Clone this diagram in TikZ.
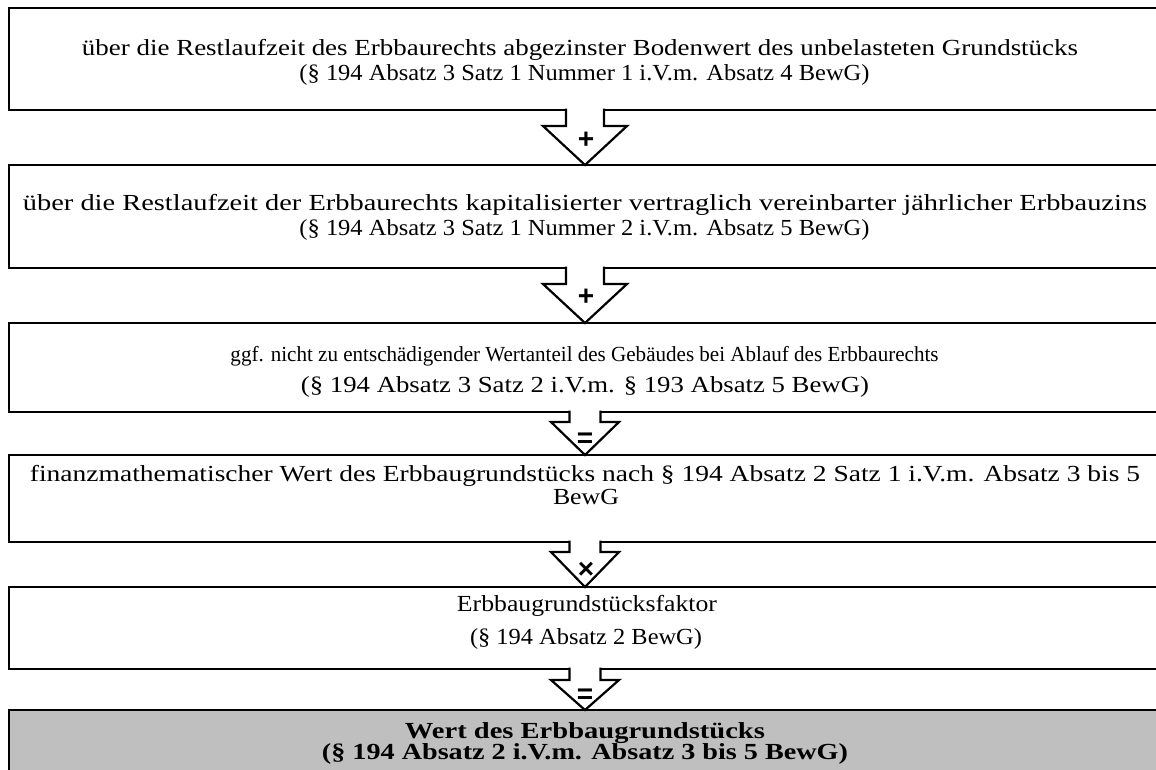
\documentclass[tikz,border=0pt]{standalone}
\usepackage{graphicx}
\usepackage{fontspec}
\setmainfont{Liberation Serif}
\newfontfamily\symfont{Liberation Sans}
\usetikzlibrary{calc}
\definecolor{boxgray}{RGB}{191,191,191}
\tikzset{
  box/.style={draw, line width=2.6pt, minimum width=1152pt, inner sep=0pt, outer sep=0pt},
  chev/.style={draw, line width=2.2pt, fill=white, line join=miter},
  txt/.style={font=\fontsize{23}{26}\selectfont, anchor=base, inner sep=0pt},
  stxt/.style={font=\fontsize{21.5}{26}\selectfont, anchor=base, inner sep=0pt},
  btxt/.style={font=\bfseries\fontsize{23}{26}\selectfont, anchor=base, inner sep=0pt},
  sym/.style={font=\symfont\bfseries\fontsize{28}{28}\selectfont, inner sep=0pt}
}
% a line of text stretched to a given width, natural height
\newcommand\fitline[2]{\resizebox{#1pt}{\height}{#2}}
% #1 upper box, #2 lower box, #3 shaft half width, #4 shaft depth, #5 wing half width
\newcommand\chevshape[5]{%
  \fill[white] ($(#1.south)+(-#3,-2)$) rectangle ($(#1.south)+(#3,2)$);
  \draw[chev] ($(#1.south)+(-#3,-1.3)$) -- ($(#1.south)+(-#3,#4)$) -- ($(#1.south)+(-#5,#4)$)
     -- (#2.north) -- ($(#1.south)+(#5,#4)$) -- ($(#1.south)+(#3,#4)$) -- ($(#1.south)+(#3,-1.3)$);
}
\begin{document}
\begin{tikzpicture}[x=1pt,y=-1pt]
\useasboundingbox (0,0) rectangle (1156,769);
\clip (0,0) rectangle (1156,769);
% boxes
\node[box, minimum height=102pt] (b1) at (585,59) {};
\node[box, minimum height=103pt] (b2) at (585,216.5) {};
\node[box, minimum height=89pt] (b3) at (585,367.5) {};
\node[box, minimum height=87pt] (b4) at (585,498.5) {};
\node[box, minimum height=82pt] (b5) at (585,628) {};
\node[box, minimum height=90pt, fill=boxgray] (b6) at (585,755) {};
% texts
\node[txt] (t1a) at (580,55) {\fitline{996}{über die Restlaufzeit des Erbbaurechts abgezinster Bodenwert des unbelasteten Grundstücks}};
\node[txt] (t1b) at (584.5,80) {\fitline{570}{(§ 194 Absatz 3 Satz 1 Nummer 1 i.V.m. Absatz 4 BewG)}};
\node[txt] (t2a) at (585,210) {\fitline{1124}{über die Restlaufzeit der Erbbaurechts kapitalisierter vertraglich vereinbarter jährlicher Erbbauzins}};
\node[txt] (t2b) at (584.5,235) {\fitline{570}{(§ 194 Absatz 3 Satz 1 Nummer 2 i.V.m. Absatz 5 BewG)}};
\node[stxt] (t3a) at (584.5,361) {\fitline{708}{ggf. nicht zu entschädigender Wertanteil des Gebäudes bei Ablauf des Erbbaurechts}};
\node[txt] (t3b) at (585,392) {\fitline{568}{(§ 194 Absatz 3 Satz 2 i.V.m. § 193 Absatz 5 BewG)}};
\node[txt] (t4a) at (585,481) {\fitline{1110}{finanzmathematischer Wert des Erbbaugrundstücks nach § 194 Absatz 2 Satz 1 i.V.m. Absatz 3 bis 5}};
\node[txt] (t4b) at (586,504) {\fitline{66}{BewG}};
\node[txt] (t5a) at (587,611) {\fitline{260}{Erbbaugrundstücksfaktor}};
\node[txt] (t5b) at (586,644) {\fitline{232}{(§ 194 Absatz 2 BewG)}};
\node[btxt] (t6a) at (585,738) {\fitline{360}{Wert des Erbbaugrundstücks}};
\node[btxt] (t6b) at (585,759) {\fitline{526}{(§ 194 Absatz 2 i.V.m. Absatz 3 bis 5 BewG)}};
% chevrons
\chevshape{b1}{b2}{19}{16}{42}
\chevshape{b2}{b3}{19}{16}{42}
\chevshape{b3}{b4}{15.5}{10}{34}
\chevshape{b4}{b5}{15.5}{10}{34}
\chevshape{b5}{b6}{15.5}{11}{34}
% symbols
\node[sym] (s1) at (586,140) {+};
\node[sym] (s2) at (586,297) {+};
\node[sym] (s3) at (585,440) {=};
\node[sym] (s4) at (586,570) {×};
\node[sym] (s5) at (585,696) {=};
\end{tikzpicture}
\end{document}
